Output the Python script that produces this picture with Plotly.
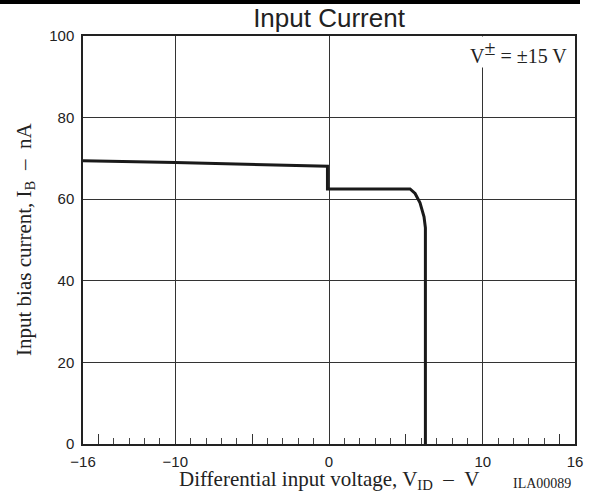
import plotly.graph_objects as go

# Curve data (V_ID in volts, I_B in nA)
vid = [-16, -10, -0.1, -0.1, 5.27, 5.6, 5.92, 6.18, 6.27, 6.27]
ib = [69.4, 69.0, 68.1, 62.5, 62.5, 61.4, 59.1, 55.7, 53.0, 0]

x_tickvals = [-16, -10, 0, 10, 16]
x_ticktext = ["\u221216", "\u221210", "0", "10", "16"]
x_midticks = [-15, -5, 5, 15]
y_tickvals = [0, 20, 40, 60, 80, 100]

L, R, T, B = 83, 575, 36, 444
PW, PH = R - L, B - T

def px_x(px):
    return (px - L) / PW

def px_y(py):
    return (B - py) / PH

serif = "Liberation Serif, Times New Roman, serif"
sans = "Liberation Sans, Arial, sans-serif"
ink = "#222"

fig = go.Figure()
fig.add_trace(go.Scatter(x=vid, y=ib, mode="lines",
                         line=dict(color="#1a1a1a", width=3),
                         showlegend=False, hoverinfo="skip"))
# invisible trace on the overlay axis carrying the longer 5 V ticks
fig.add_trace(go.Scatter(x=[-16, 16], y=[0, 0], xaxis="x2", mode="lines",
                         line=dict(width=0), showlegend=False, hoverinfo="skip"))

fig.update_layout(
    width=597, height=497,
    margin=dict(l=L, r=597 - R, t=T, b=497 - B, autoexpand=False),
    paper_bgcolor="white", plot_bgcolor="white",
    title=dict(text="Input Current", x=329 / 597, xanchor="center",
               y=1 - 18 / 497, yanchor="middle",
               font=dict(family=sans, size=26, color=ink)),
    xaxis=dict(range=[-16, 16], tickvals=x_tickvals, ticktext=x_ticktext,
               showgrid=True, gridcolor="#333", gridwidth=1,
               showline=True, linecolor=ink, linewidth=1.5, mirror=True,
               ticks="inside", ticklen=6, tickcolor="#333",
               minor=dict(dtick=1, tick0=0, ticks="inside", ticklen=6, tickcolor="#444", showgrid=False),
               tickfont=dict(family=sans, size=15, color=ink),
               ticklabelstandoff=3,
               zeroline=False, automargin=False),
    xaxis2=dict(range=[-16, 16], overlaying="x", side="bottom", anchor="y",
                tickvals=x_midticks, showticklabels=False, ticks="inside", ticklen=10,
                tickcolor="#333", showgrid=False, showline=False, zeroline=False,
                automargin=False),
    yaxis=dict(range=[0, 100], tickvals=y_tickvals,
               showgrid=True, gridcolor="#333", gridwidth=1,
               showline=True, linecolor=ink, linewidth=1.5, mirror=True,
               ticks="", zeroline=False, automargin=False,
               ticklabelstandoff=4,
               tickfont=dict(family=sans, size=15, color=ink)),
)

nb = "\u00a0"
fig.add_annotation(text=f"Differential input voltage, V<sub>ID</sub>{nb}{nb}\u2013{nb}{nb}V",
                   xref="paper", yref="paper", x=px_x(329), y=px_y(480),
                   xanchor="center", yanchor="middle", showarrow=False,
                   font=dict(family=serif, size=21, color=ink))
fig.add_annotation(text=f"Input bias current, I<sub>B</sub>{nb}{nb}\u2013{nb}{nb}nA",
                   xref="paper", yref="paper", x=px_x(25), y=0.5, textangle=-90,
                   xanchor="center", yanchor="middle", showarrow=False,
                   font=dict(family=serif, size=21, color=ink))
fig.add_annotation(text="ILA00089", xref="paper", yref="paper", x=px_x(573), y=px_y(483),
                   xanchor="right", yanchor="middle", showarrow=False,
                   font=dict(family=serif, size=14, color=ink))
fig.add_annotation(text="V<sup><span style='font-size:20px'>\u00b1</span></sup> = \u00b115 V",
                   xref="paper", yref="paper",
                   x=px_x(568), y=px_y(52),
                   xanchor="right", yanchor="middle", showarrow=False, bgcolor="white",
                   borderpad=0,
                   font=dict(family=serif, size=20, color=ink))
fig.add_shape(type="rect", xref="paper", yref="paper", x0=px_x(0), x1=px_x(580),
              y0=px_y(-2), y1=px_y(4), line=dict(width=0), fillcolor="black", layer="above")

fig.write_html("out.html", config={"displayModeBar": False},
               post_script="document.body.style.margin='0';document.body.style.padding='0';")
